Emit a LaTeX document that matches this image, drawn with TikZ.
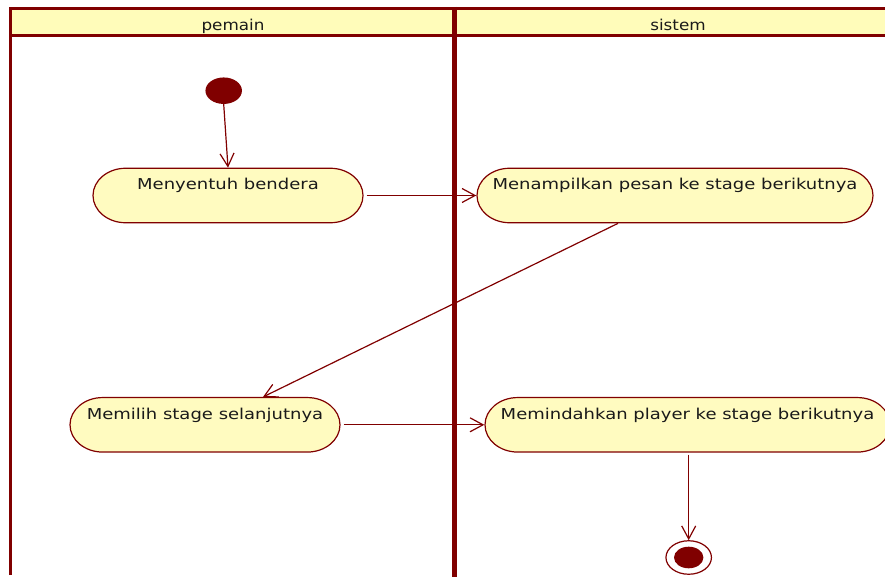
\documentclass[tikz,border=0pt]{standalone}
\usepackage{fontspec}
\setmainfont{DejaVu Sans}
\usetikzlibrary{arrows.meta,shapes.misc,shapes.geometric}
\definecolor{umlred}{HTML}{800000}
\definecolor{umlfill}{HTML}{FFFBC0}
\definecolor{lanefill}{HTML}{FFFCBA}
\definecolor{umltext}{HTML}{1A1A1A}
\begin{document}
\begin{tikzpicture}[x=1pt,y=-1pt,
  action/.style={rounded rectangle, draw=umlred, fill=umlfill, line width=1.2pt,
    inner sep=0pt, minimum height=54.5pt, text height=12pt, text depth=23pt,
    xscale=1.2, font=\fontsize{15}{18}\selectfont, text=umltext},
  lanelabel/.style={anchor=base, xscale=1.12, font=\fontsize{15}{18}\selectfont, text=umltext},
  flow/.style={draw=umlred, line width=1.2pt, -{Straight Barb[length=13pt,width=14pt]}},
  startnode/.style={ellipse, fill=umlred, inner sep=0pt},
]
\useasboundingbox (0,0) rectangle (885,577);

% swimlane frame
\fill[lanefill] (10,8.5) rectangle (890,35.5);
\draw[umlred, line width=3pt] (10,575) -- (10,8.5) -- (890,8.5);
\draw[umlred, line width=2.5pt] (10,35.5) -- (890,35.5);
\draw[umlred, line width=5pt] (454,7) -- (454,580);
\node[lanelabel] (pemain) at (233,30.5) {pemain};
\node[lanelabel] (sistem) at (678,30.5) {sistem};

% initial and final states
\node[startnode, minimum width=36.5pt, minimum height=26.5pt] (start) at (223.7,90.7) {};
\node[ellipse, draw=umlred, line width=1.2pt, fill=white, inner sep=0pt,
      minimum width=45.5pt, minimum height=33.5pt] (fin) at (688.7,557.5) {};
\node[startnode, minimum width=29.4pt, minimum height=21.6pt] (fincore) at (688.7,557.5) {};

% actions
\node[action, minimum width=225pt] (a1) at (228,195.5) {Menyentuh bendera};
\node[action, minimum width=330pt] (a2) at (675,195.5) {Menampilkan pesan ke stage berikutnya};
\node[action, minimum width=225pt] (b1) at (205,424.8) {Memilih stage selanjutnya};
\node[action, minimum width=337.5pt] (b2) at (687.5,424.8) {Memindahkan player ke stage berikutnya};

% control flows
\draw[flow] (start.south) -- (a1.north);
\draw[flow, shorten <=3pt] (a1.east) -- (a2.west);
\draw[flow] ([xshift=-57pt]a2.south) -- ([xshift=58pt]b1.north);
\draw[flow, shorten <=3pt] (b1.east) -- (b2.west);
\draw[flow, shorten <=2pt] (b2.south -| fin.north) -- (fin.north);
\end{tikzpicture}
\end{document}
